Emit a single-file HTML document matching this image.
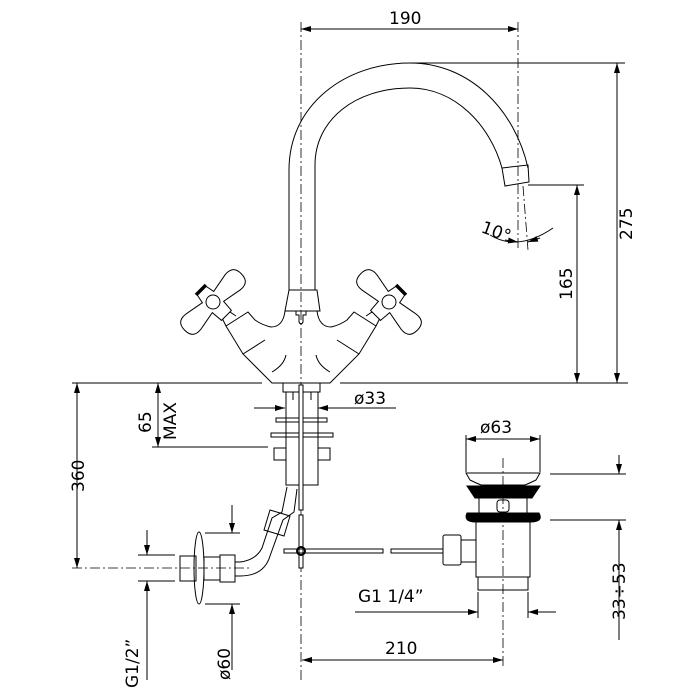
<!DOCTYPE html>
<html><head><meta charset="utf-8"><style>
html,body{margin:0;padding:0;background:#fff}
svg{display:block}
text{font-family:"DejaVu Sans","Liberation Sans",sans-serif;font-size:17px;fill:#000}
</style></head><body>
<svg width="700" height="700" viewBox="0 0 700 700" xmlns="http://www.w3.org/2000/svg">
<defs>
<marker id="a" viewBox="0 0 10 6" refX="10" refY="3" markerWidth="10" markerHeight="6" orient="auto-start-reverse" markerUnits="userSpaceOnUse"><path d="M0,0 L10,3 L0,6z" fill="#000"/></marker>
</defs>
<g fill="none" stroke="#000" stroke-width="1">
<g stroke-dasharray="10,3,2,3" stroke-width="0.8">
<line x1="301" y1="22" x2="301" y2="680"/>
<line x1="518" y1="22" x2="518" y2="248"/>
<line x1="72" y1="568" x2="250" y2="568"/>
<line x1="503" y1="458" x2="503" y2="668"/>
<line x1="523" y1="186" x2="528" y2="250"/>
</g>
<line x1="301" y1="29" x2="518" y2="29" marker-start="url(#a)" marker-end="url(#a)"/>
<line x1="410" y1="63" x2="625" y2="63"/>
<line x1="617" y1="63" x2="617" y2="383" marker-start="url(#a)" marker-end="url(#a)"/>
<line x1="528" y1="185" x2="584" y2="185"/>
<line x1="577" y1="185" x2="577" y2="383" marker-start="url(#a)" marker-end="url(#a)"/>
<line x1="72" y1="383" x2="262" y2="383"/>
<line x1="340" y1="383" x2="628" y2="383"/>
<path d="M490,235 Q518,252 553,228"/>
<line x1="505" y1="240" x2="518" y2="242" marker-end="url(#a)"/>
<line x1="540" y1="238" x2="528" y2="242" marker-end="url(#a)"/>
<path d="M289,290 L289,170 C289,105 345,63 410,63 C470,63 515,110 528,168"/>
<path d="M315,290 L315,165 C315,120 355,88 410,88 C455,88 490,125 502,168"/>
<path d="M502,168 L528,165 L529,182 L505,186 Z"/>
<path d="M289,290 L317,290 L320,311 L285,311 Z"/>
<path d="M296,311 L306,311 L306,315 L303,315 L303,322 Q301,326 299,322 L299,315 L296,315 Z"/>
<path d="M285,311 Q283,327 271,327 Q262,325 255,320 L248,312 L226,326 L243,354 L272,383 L330,383 L359,354 L376,326 L354,312 L347,320 Q340,325 331,327 Q319,327 317,311"/>
<line x1="243" y1="354" x2="265" y2="340"/>
<line x1="359" y1="354" x2="337" y2="340"/>
<path d="M272,372 Q284,365 286,355"/><path d="M330,372 Q318,365 316,355"/>
<g id="h">
<path d="M226,326 L222,318 L230,312 L236,316"/>
<g transform="translate(213,302) rotate(-45)">
<path d="M-8,-7 L-24,-10 Q-40,-14 -40,0 Q-40,14 -24,10 L-8,7 L-7,19 L7,19 L8,7 L24,10 Q40,14 40,0 Q40,-14 24,-10 L8,-7 L6,-17 L-6,-17 Z" fill="#fff"/>
<line x1="-7" y1="-17" x2="7" y2="-17" stroke-width="3.5"/>
<circle cx="0" cy="0" r="7"/>
</g>
</g>
<use href="#h" transform="translate(602,0) scale(-1,1)"/>
<path d="M283,383 L283,392 L320,392 L320,383"/>
<path d="M286,392 L286,485 L318,485 L318,392 M293,392 L293,400 M311,392 L311,400"/>
<rect x="276" y="418" width="51" height="4"/>
<rect x="271" y="433" width="62" height="4"/>
<rect x="274" y="448" width="12" height="12"/><rect x="318" y="448" width="12" height="12"/>
<line x1="254" y1="408" x2="285" y2="408" marker-end="url(#a)"/>
<line x1="396" y1="408" x2="318" y2="408" marker-end="url(#a)"/>
<rect x="299" y="385" width="4" height="125" fill="#fff"/>
<rect x="299" y="515" width="4" height="53" fill="#fff"/>
<rect x="284" y="549" width="99" height="4"/>
<rect x="391" y="549" width="52" height="4"/>
<circle cx="301" cy="551" r="4" stroke-width="2"/>
<path d="M287,487 L282,512 L272,518 L262,548 Q256,560 240,562 L235,562"/>
<path d="M297,489 L294,512 L283,520 L270,556 Q264,576 240,576 L235,576"/>
<path d="M270,510 L290,516 L284,536 L264,530 Z"/>
<rect x="180" y="556" width="16" height="25"/>
<ellipse cx="199" cy="568" rx="5" ry="36"/>
<rect x="204" y="557" width="16" height="23"/>
<rect x="220" y="555" width="15" height="27"/>
<line x1="138" y1="555" x2="175" y2="555"/><line x1="138" y1="581" x2="175" y2="581"/>
<line x1="147" y1="530" x2="147" y2="555" marker-end="url(#a)"/>
<line x1="147" y1="680" x2="147" y2="581" marker-end="url(#a)"/>
<line x1="205" y1="533" x2="240" y2="533"/><line x1="205" y1="604" x2="240" y2="604"/>
<line x1="232" y1="505" x2="232" y2="533" marker-end="url(#a)"/>
<line x1="232" y1="670" x2="232" y2="604" marker-end="url(#a)"/>
<line x1="77" y1="383" x2="77" y2="568" marker-start="url(#a)" marker-end="url(#a)"/>
<line x1="158" y1="383" x2="158" y2="447" marker-start="url(#a)" marker-end="url(#a)"/>
<line x1="152" y1="447" x2="268" y2="447"/>
<!-- waste -->
<path d="M466,473 L540,473 L536,480 Q530,483 525,485 L481,485 Q476,483 470,480 Z"/>
<path d="M467,486 L540,486 L532,498 L475,498 Z" fill="#000"/>
<line x1="479" y1="498" x2="479" y2="513"/><line x1="527" y1="498" x2="527" y2="513"/>
<rect x="497" y="500" width="12" height="12" rx="3"/>
<path d="M467,513 Q463,522 476,522 L530,522 Q544,522 539,513 Z" fill="#000"/>
<path d="M476,522 L476,577 L530,577 L530,522"/>
<rect x="478" y="577" width="50" height="13"/>
<rect x="443" y="535" width="18" height="30" rx="2"/>
<path d="M461,540 L476,540 M461,562 L476,562"/>
<line x1="466" y1="435" x2="466" y2="472"/><line x1="540" y1="435" x2="540" y2="472"/>
<line x1="466" y1="439" x2="540" y2="439" marker-start="url(#a)" marker-end="url(#a)"/>
<line x1="550" y1="474" x2="626" y2="474"/><line x1="550" y1="520" x2="626" y2="520"/>
<line x1="619" y1="455" x2="619" y2="474" marker-end="url(#a)"/>
<line x1="619" y1="640" x2="619" y2="520" marker-end="url(#a)"/>
<line x1="478" y1="592" x2="478" y2="618"/><line x1="528" y1="592" x2="528" y2="618"/>
<line x1="355" y1="612" x2="478" y2="612" marker-end="url(#a)"/>
<line x1="556" y1="612" x2="528" y2="612" marker-end="url(#a)"/>
<line x1="302" y1="660" x2="503" y2="660" marker-start="url(#a)" marker-end="url(#a)"/>
</g>
<text x="389" y="24">190</text>
<text x="481" y="237" font-size="15" transform="rotate(20 495 232)">10°</text>
<text transform="translate(632,240) rotate(-90)">275</text>
<text transform="translate(572,300) rotate(-90)">165</text>
<text transform="translate(84,492) rotate(-90)">360</text>
<text transform="translate(151,433) rotate(-90)">65</text>
<text transform="translate(176,440) rotate(-90)">MAX</text>
<text x="354" y="404">ø33</text>
<text x="480" y="433">ø63</text>
<text transform="translate(625,620) rotate(-90)">33÷53</text>
<text x="358" y="602">G1  1/4”</text>
<text x="385" y="654">210</text>
<text transform="translate(138,688) rotate(-90)">G1/2”</text>
<text transform="translate(230,680) rotate(-90)">ø60</text>
</svg>
</body></html>
